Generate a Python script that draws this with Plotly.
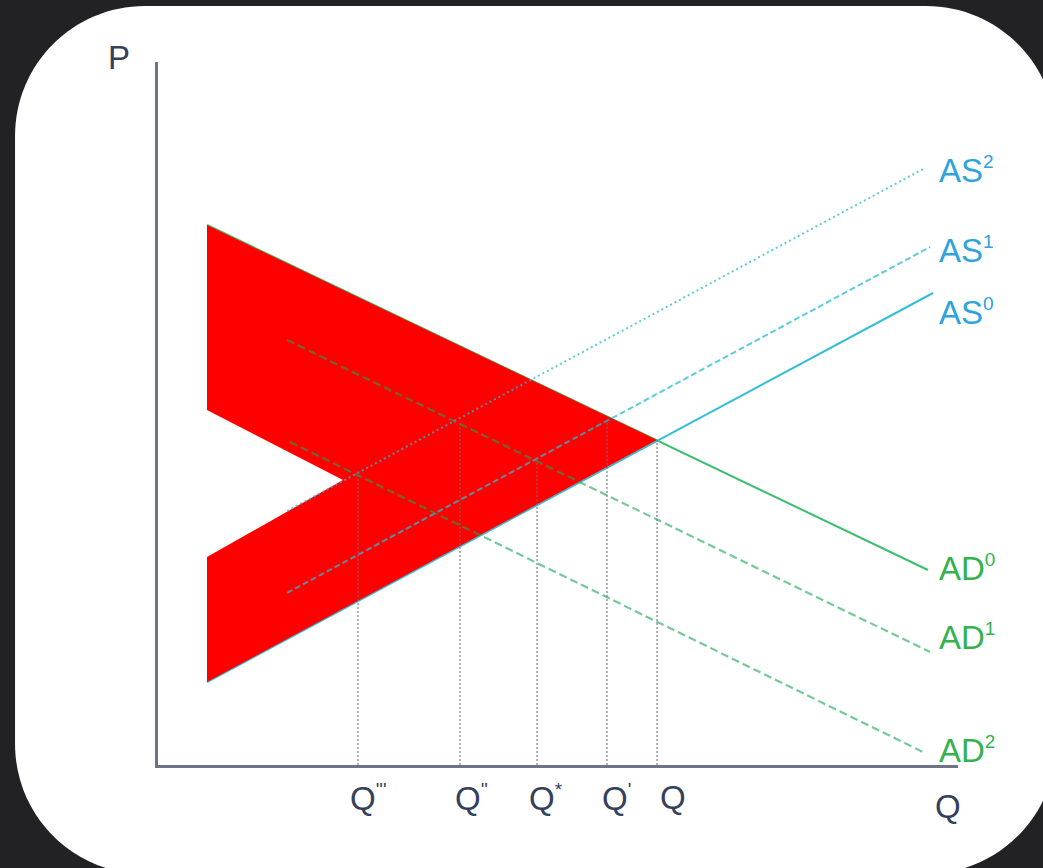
import plotly.graph_objects as go

# Curvas de demanda y oferta agregada (Q en x, P en y)
ad0_x = [49, 770]
ad0_y = [540, 195]
ad1_x = [129, 772]
ad1_y = [425, 113]
ad2_x = [132, 767]
ad2_y = [323, 12]
as0_x = [49, 775]
as0_y = [83, 472]
as1_x = [129, 772]
as1_y = [172, 518]
as2_x = [129, 767]
as2_y = [254, 597]

# Zona sombreada en rojo
zona_x = [49, 499, 49, 49, 185, 49, 49]
zona_y = [540, 325, 83, 208, 285, 355, 540]

# Cantidades de equilibrio
q_marks = ["'''", "''", "*", "'", ""]
q_pos = [200, 302, 379, 449, 499]
q_top = [290, 343, 305, 347, 325]

# Etiquetas de las curvas
as_marks = ["2", "1", "0"]
ad_marks = ["0", "1", "2"]

# Colores
color_as = "rgba(40,185,210,0.75)"
color_ad = "rgba(25,165,85,0.6)"
txt_as = "#2ea3dc"
txt_ad = "#35b24e"
txt_ax = "#34405c"
fuente = "Liberation Sans, Arial, sans-serif"

# Geometría de la figura (pixeles)
W, H = 1043, 868
x0, x1, y0, y1 = 158, 958, 765, 62


def to_paper(px, py):
    return (px - x0) / (x1 - x0), (y0 - py) / (y0 - y1)


def sup(base, mark):
    if not mark:
        return base
    return base + "<sup><span style='font-size:19px'>" + mark + "</span></sup>"


def panel_path(L, T, R, B, r):
    k = 0.5523 * r
    pts = [
        ("M", [(L + r, T)]),
        ("L", [(R - r, T)]),
        ("C", [(R - r + k, T), (R, T + r - k), (R, T + r)]),
        ("L", [(R, B - r)]),
        ("C", [(R, B - r + k), (R - r + k, B), (R - r, B)]),
        ("L", [(L + r, B)]),
        ("C", [(L + r - k, B), (L, B - r + k), (L, B - r)]),
        ("L", [(L, T + r)]),
        ("C", [(L, T + r - k), (L + r - k, T), (L + r, T)]),
    ]
    s = ""
    for cmd, pp in pts:
        s += cmd + " " + " ".join("%.4f,%.4f" % to_paper(a, b) for a, b in pp) + " "
    return s + "Z"


fig = go.Figure()

# Curvas sólidas debajo de la zona roja
fig.add_trace(go.Scatter(x=ad0_x, y=ad0_y, mode="lines",
                         line=dict(color="rgb(60,190,110)", width=2)))
fig.add_trace(go.Scatter(x=as0_x, y=as0_y, mode="lines",
                         line=dict(color="rgb(50,190,215)", width=2)))

# Zona roja
fig.add_trace(go.Scatter(x=zona_x, y=zona_y, mode="lines", fill="toself",
                         fillcolor="#ff0000", line=dict(width=0)))

# Curvas desplazadas
fig.add_trace(go.Scatter(x=ad1_x, y=ad1_y, mode="lines",
                         line=dict(color=color_ad, width=2.2, dash="8px,4px")))
fig.add_trace(go.Scatter(x=ad2_x, y=ad2_y, mode="lines",
                         line=dict(color=color_ad, width=2.2, dash="8px,4px")))
fig.add_trace(go.Scatter(x=as1_x, y=as1_y, mode="lines",
                         line=dict(color=color_as, width=2, dash="6px,3px")))
fig.add_trace(go.Scatter(x=as2_x, y=as2_y, mode="lines",
                         line=dict(color=color_as, width=2, dash="2px,3px")))

# Líneas verticales de las cantidades
for q, t in zip(q_pos, q_top):
    fig.add_trace(go.Scatter(x=[q, q], y=[0, t], mode="lines",
                             line=dict(color="rgba(110,110,120,0.7)", width=1.5,
                                       dash="2px,2px")))

annotations = []
for m, yy in zip(as_marks, [595, 515, 453]):
    annotations.append(dict(x=779, y=yy, xref="x", yref="y", text=sup("AS", m),
                            showarrow=False, xanchor="left", yanchor="middle",
                            font=dict(size=33, color=txt_as, family=fuente)))
for m, yy in zip(ad_marks, [197, 128, 15]):
    annotations.append(dict(x=779, y=yy, xref="x", yref="y", text=sup("AD", m),
                            showarrow=False, xanchor="left", yanchor="middle",
                            font=dict(size=33, color=txt_ad, family=fuente)))
for m, q, dx in zip(q_marks, q_pos, [-10, -7, -10, -7, 1]):
    annotations.append(dict(x=q, y=to_paper(0, 798)[1], xref="x", yref="paper",
                            text=sup("Q", m), showarrow=False, xanchor="left",
                            yanchor="middle", xshift=dx,
                            font=dict(size=33, color=txt_ax, family=fuente)))

px_, py_ = to_paper(119, 58)
annotations.append(dict(x=px_, y=py_, xref="paper", yref="paper", text="P",
                        showarrow=False, xanchor="center", yanchor="middle",
                        font=dict(size=33, color=txt_ax, family=fuente)))
qx_, qy_ = to_paper(948, 806)
annotations.append(dict(x=qx_, y=qy_, xref="paper", yref="paper", text="Q",
                        showarrow=False, xanchor="center", yanchor="middle",
                        font=dict(size=33, color=txt_ax, family=fuente)))

fig.update_layout(
    width=W, height=H,
    margin=dict(l=x0, r=W - x1, t=y1, b=H - y0),
    paper_bgcolor="#222226",
    plot_bgcolor="rgba(0,0,0,0)",
    showlegend=False,
    annotations=annotations,
    shapes=[dict(type="path", xref="paper", yref="paper",
                 path=panel_path(15, 6, 1056, 874, 130),
                 fillcolor="white", line=dict(width=0), layer="below")],
)
fig.update_xaxes(range=[0, 800], showgrid=False, zeroline=False, showticklabels=False,
                 ticks="", showline=True, linecolor="#6e7385", linewidth=3)
fig.update_yaxes(range=[0, 703], showgrid=False, zeroline=False, showticklabels=False,
                 ticks="", showline=True, linecolor="#6e7385", linewidth=3)

fig.write_html("out.html", config={"displayModeBar": False},
               post_script="document.body.style.margin='0';")
